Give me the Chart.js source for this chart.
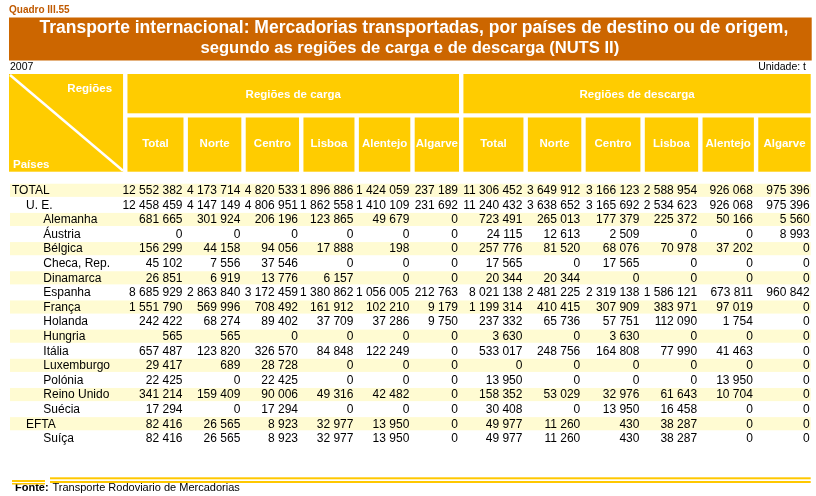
<!DOCTYPE html>
<html><head><meta charset="utf-8">
<script src="https://cdn.jsdelivr.net/npm/chart.js@4.4.1/dist/chart.umd.min.js"></script>
<style>html,body{margin:0;padding:0;background:#fff}canvas{display:block}</style>
</head><body>
<canvas id="c" width="816" height="496"></canvas>
<script>
// ---------------- DATA ----------------
const rowLabels = ['TOTAL','U. E.','Alemanha','Áustria','Bélgica','Checa, Rep.','Dinamarca','Espanha','França','Holanda','Hungria','Itália','Luxemburgo','Polónia','Reino Unido','Suécia','EFTA','Suíça'];
const rowLevels = [0,1,2,2,2,2,2,2,2,2,2,2,2,2,2,2,1,2];
const columnLabels = ['Total','Norte','Centro','Lisboa','Alentejo','Algarve'];
const groupLabels = ['Regiões de carga','Regiões de descarga'];

const cargaTotal    = [12552382,12458459,681665,0,156299,45102,26851,8685929,1551790,242422,565,657487,29417,22425,341214,17294,82416,82416];
const cargaNorte    = [4173714,4147149,301924,0,44158,7556,6919,2863840,569996,68274,565,123820,689,0,159409,0,26565,26565];
const cargaCentro   = [4820533,4806951,206196,0,94056,37546,13776,3172459,708492,89402,0,326570,28728,22425,90006,17294,8923,8923];
const cargaLisboa   = [1896886,1862558,123865,0,17888,0,6157,1380862,161912,37709,0,84848,0,0,49316,0,32977,32977];
const cargaAlentejo = [1424059,1410109,49679,0,198,0,0,1056005,102210,37286,0,122249,0,0,42482,0,13950,13950];
const cargaAlgarve  = [237189,231692,0,0,0,0,0,212763,9179,9750,0,0,0,0,0,0,0,0];

const descargaTotal    = [11306452,11240432,723491,24115,257776,17565,20344,8021138,1199314,237332,3630,533017,0,13950,158352,30408,49977,49977];
const descargaNorte    = [3649912,3638652,265013,12613,81520,0,20344,2481225,410415,65736,0,248756,0,0,53029,0,11260,11260];
const descargaCentro   = [3166123,3165692,177379,2509,68076,17565,0,2319138,307909,57751,3630,164808,0,0,32976,13950,430,430];
const descargaLisboa   = [2588954,2534623,225372,0,70978,0,0,1586121,383971,112090,0,77990,0,0,61643,16458,38287,38287];
const descargaAlentejo = [926068,926068,50166,0,37202,0,0,673811,97019,1754,0,41463,0,13950,10704,0,0,0];
const descargaAlgarve  = [975396,975396,5560,8993,0,0,0,960842,0,0,0,0,0,0,0,0,0,0];

const texts = {
  quadro: 'Quadro III.55',
  title: ['Transporte internacional: Mercadorias transportadas, por países de destino ou de origem,',
          'segundo as regiões de carga e de descarga (NUTS II)'],
  year: '2007',
  unit: 'Unidade: t',
  cornerTop: 'Regiões',
  cornerBottom: 'Países',
  sourceLabel: 'Fonte:',
  source: 'Transporte Rodoviario de Mercadorias'
};

const columns = [cargaTotal,cargaNorte,cargaCentro,cargaLisboa,cargaAlentejo,cargaAlgarve,
                 descargaTotal,descargaNorte,descargaCentro,descargaLisboa,descargaAlentejo,descargaAlgarve];

// ---------------- LAYOUT / STYLE ----------------
const FONT = '"Liberation Sans", Arial, sans-serif';
const LABEL_W = 114, GAP = 4.4;
const COL_W = [56,53.4,53.3,51,51.4,44.3, 60,53.4,54.7,53.3,51.3,52.4];
const INDENT = [3, 17, 34.3];
const edges = [];
let pos = LABEL_W + GAP;
COL_W.forEach(w => { edges.push([pos, pos + w]); pos += w + GAP; });
const X_MAX = pos - GAP;
const COL_BROWN = '#CC6600', COL_YELLOW = '#FFCC00', COL_STRIPE = '#FFFBD2';

const fmt = v => String(v).replace(/\B(?=(\d{3})+(?!\d))/g, ' ');

const datasets = columns.map((vals, c) => ({
  label: (c < 6 ? 'carga ' : 'descarga ') + columnLabels[c % 6],
  data: vals.map((v, r) => ({x: edges[c][1] - 1, y: r, v: v})),
  pointRadius: 0, pointHoverRadius: 0, kind: 'value'
}));
datasets.push({
  label: 'rows',
  data: rowLabels.map((t, r) => ({x: INDENT[rowLevels[r]], y: r, t: t})),
  pointRadius: 0, pointHoverRadius: 0, kind: 'label'
});

const tablePlugin = {
  id: 'table',
  beforeDraw(chart) {
    const ctx = chart.ctx, x = chart.scales.x, y = chart.scales.y;
    ctx.save();
    ctx.fillStyle = '#fff';
    ctx.fillRect(0, 0, chart.width, chart.height);
    // Quadro label
    ctx.fillStyle = '#C05A00';
    ctx.font = 'bold 10px ' + FONT;
    ctx.textBaseline = 'middle';
    ctx.textAlign = 'left';
    ctx.fillText(texts.quadro, 9, 10);
    // title bar
    const L = x.getPixelForValue(0), R = x.getPixelForValue(X_MAX);
    ctx.fillStyle = COL_BROWN;
    ctx.fillRect(L, 17.5, R - L + 1, 43);
    ctx.fillStyle = '#fff';
    ctx.textAlign = 'center';
    ctx.font = 'bold 17.5px ' + FONT;
    ctx.fillText(texts.title[0], (L + R) / 2 + 4, 28);
    ctx.font = 'bold 16.6px ' + FONT;
    ctx.fillText(texts.title[1], (L + R) / 2, 48.5);
    // year / unit
    ctx.fillStyle = '#000';
    ctx.font = '10.5px ' + FONT;
    ctx.textAlign = 'left';
    ctx.fillText(texts.year, 10, 67);
    ctx.textAlign = 'right';
    ctx.fillText(texts.unit, 806, 67);
    // header blocks
    const H_TOP = 74, H_MID = 113.3, S_TOP = 117.5, S_BOT = 171.7;
    ctx.fillStyle = COL_YELLOW;
    const cL = x.getPixelForValue(0), cR = x.getPixelForValue(LABEL_W);
    ctx.fillRect(cL, H_TOP, cR - cL, S_BOT - H_TOP);
    [[0,5],[6,11]].forEach(([a,b], g) => {
      const gl = x.getPixelForValue(edges[a][0]), gr = x.getPixelForValue(edges[b][1]);
      ctx.fillStyle = COL_YELLOW;
      ctx.fillRect(gl, H_TOP, gr - gl, H_MID - H_TOP);
      ctx.fillStyle = '#fff';
      ctx.font = 'bold 11.5px ' + FONT;
      ctx.textAlign = 'center';
      ctx.fillText(groupLabels[g], (gl + gr) / 2, 94.5);
    });
    edges.forEach((e, c) => {
      const l = x.getPixelForValue(e[0]), r = x.getPixelForValue(e[1]);
      ctx.fillStyle = COL_YELLOW;
      ctx.fillRect(l, S_TOP, r - l, S_BOT - S_TOP);
      ctx.fillStyle = '#fff';
      ctx.font = 'bold 11.5px ' + FONT;
      ctx.textAlign = 'center';
      ctx.fillText(columnLabels[c % 6], (l + r) / 2, 143.5);
    });
    // corner diagonal & labels
    ctx.strokeStyle = '#fff';
    ctx.lineWidth = 2.5;
    ctx.beginPath();
    ctx.moveTo(cL + 1, H_TOP + 1);
    ctx.lineTo(cR, S_BOT - 1);
    ctx.stroke();
    ctx.fillStyle = '#fff';
    ctx.font = 'bold 11.5px ' + FONT;
    ctx.textAlign = 'right';
    ctx.fillText(texts.cornerTop, cR - 11, 88.5);
    ctx.textAlign = 'left';
    ctx.fillText(texts.cornerBottom, cL + 4, 165);
    // stripes
    ctx.fillStyle = COL_STRIPE;
    rowLabels.forEach((_, r) => {
      if (r % 2 === 0) {
        const t = y.getPixelForValue(r - 0.45), b = y.getPixelForValue(r + 0.45);
        ctx.fillRect(cL + 1, t, R - cL - 1, b - t);
      }
    });
    // footer
    ctx.fillStyle = '#000';
    ctx.font = 'bold 11px ' + FONT;
    ctx.textAlign = 'left';
    ctx.fillText(texts.sourceLabel, 15, 488);
    ctx.font = '11px ' + FONT;
    ctx.fillText(texts.source, 52.5, 488);
    ctx.fillStyle = '#FFC800';
    ctx.fillRect(50, 477.3, R - 50, 2);
    ctx.fillRect(50, 481, R - 50, 2);
    ctx.fillRect(12, 480, 33, 2);
    ctx.fillRect(12, 483, 33, 1.5);
    ctx.restore();
  },
  afterDatasetsDraw(chart) {
    const ctx = chart.ctx;
    ctx.save();
    ctx.fillStyle = '#000';
    ctx.font = '12px ' + FONT;
    ctx.textBaseline = 'middle';
    chart.data.datasets.forEach((ds, i) => {
      const meta = chart.getDatasetMeta(i);
      ctx.textAlign = ds.kind === 'value' ? 'right' : 'left';
      meta.data.forEach((el, j) => {
        const d = ds.data[j];
        const s = ds.kind === 'value' ? fmt(d.v) : d.t;
        ctx.fillText(s, el.x, el.y + 0.5);
      });
    });
    ctx.restore();
  }
};

new Chart(document.getElementById('c'), {
  type: 'scatter',
  data: { datasets },
  options: {
    responsive: false,
    animation: false,
    devicePixelRatio: 1,
    events: [],
    layout: { padding: { left: 9, top: 183, right: 5.3, bottom: 50.4 } },
    scales: {
      x: { type: 'linear', min: 0, max: X_MAX, display: false },
      y: { type: 'linear', min: -0.5, max: 17.5, reverse: true, display: false }
    },
    plugins: { legend: { display: false }, tooltip: { enabled: false }, title: { display: false } }
  },
  plugins: [tablePlugin]
});
</script>
</body></html>
